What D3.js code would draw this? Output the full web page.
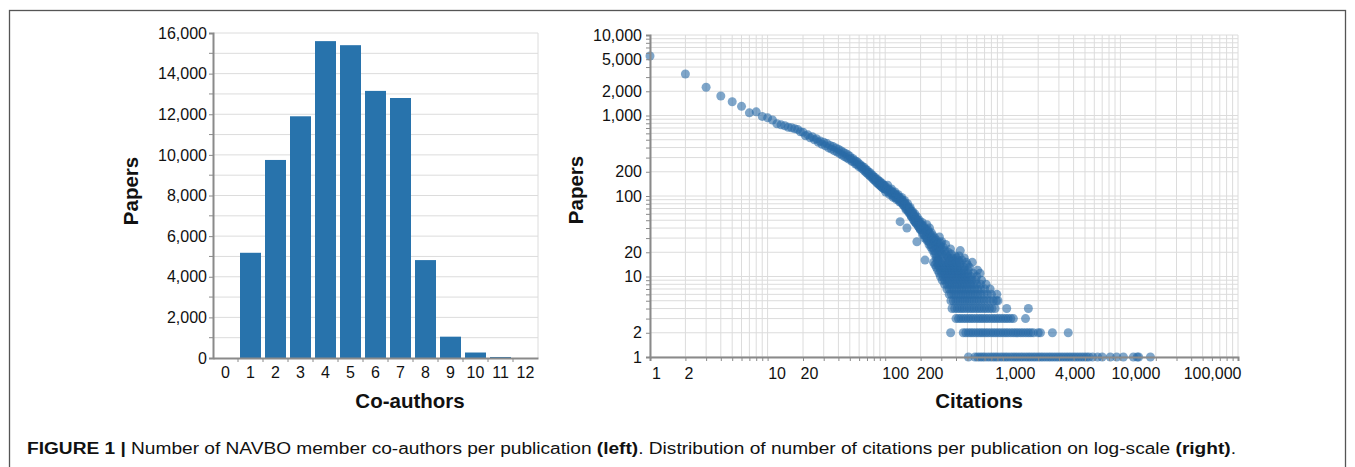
<!DOCTYPE html>
<html>
<head>
<meta charset="utf-8">
<script src="https://cdn.jsdelivr.net/npm/d3@7"></script>
<style>
  body { margin: 0; background: #fff; }
  text { font-family: Arial, "Liberation Sans", Helvetica, sans-serif; fill: #111; }
</style>
</head>
<body>
<script>
// ---- left panel data: papers by number of co-authors
let coAuthors = [0, 1, 2, 3, 4, 5, 6, 7, 8, 9, 10, 11, 12]
let coAuthorPapers = [0, 5180, 9750, 11900, 15600, 15400, 13150, 12800, 4820, 1050, 270, 50, 0]
let leftYTicks = [0, 2000, 4000, 6000, 8000, 10000, 12000, 14000, 16000]

// ---- right panel data: [citations, papers]
let citationHead = [[1,5480],[2,3280],[3,2240],[4,1745],[5,1480],[6,1300],[7,1080],[8,1110],[9,975],[10,935],
  [11,880],[12,790],[13,765],[14,745],[15,715],[16,705],[17,685],[18,672],[19,628],[20,620],[21,560],[22,575],
  [23,528],[24,545],[25,500],[26,515],[27,466],[28,482],[29,440],[30,466],[31,420],[32,448],[33,396],[34,425],
  [35,382],[36,411],[37,364],[38,396],[39,352],[40,382],[41,336],[42,365],[43,322],[44,350],[45,310],[46,338],
  [47,298],[48,326],[49,287],[50,312],[51,290],[52,270],[53,292],[54,265],[55,276],[56,250],[57,268],[58,245],
  [59,258],[60,230],[61,246],[62,236],[63,222],[64,232],[65,213],[66,228],[67,204],[68,214],[69,196],[70,210],
  [71,188],[72,198],[73,182],[74,196],[75,175],[76,184],[77,170],[78,182],[79,162],[80,172],[81,158],[82,170],
  [83,152],[84,160],[85,146],[86,160],[87,142],[88,152],[89,138],[90,152],[91,134],[92,144],[93,130],[94,144],
  [95,126],[96,137],[97,124],[98,136],[99,122]]

let citationBand = [[100,131],[101,112],[102,121],[104,126],[105,136],[106,112],[108,119],[109,104],[110,110],
  [112,116],[113,122],[114,105],[116,111],[117,96],[118,100],[120,107],[121,112],[122,97],[124,103],[125,90],
  [126,94],[128,99],[129,104],[130,90],[132,95],[133,84],[134,48],[135,86],[137,91],[138,96],[139,82],[141,87],
  [142,78],[143,77],[145,83],[146,88],[147,74],[149,79],[150,68],[151,70],[153,40],[154,75],[155,80],[156,66],
  [158,71],[159,62],[160,63],[162,69],[163,72],[164,59],[166,64],[167,55],[168,56],[170,62],[171,64],[172,54],
  [174,58],[175,50],[176,50],[178,56],[179,60],[180,47],[182,53],[183,47],[184,45],[186,27],[187,55],[188,50],
  [190,44],[191,42],[192,48],[194,41],[195,50],[196,46],[198,39],[199,38],[200,44],[203,38],[204,44],[206,47],
  [208,33],[209,35],[212,42],[213,40],[215,33],[217,30],[218,16],[220,39],[222,36],[223,31],[226,44],[227,28],
  [229,29],[231,38],[232,36],[235,27],[236,25],[238,40],[240,34],[241,31],[244,25],[245,23],[247,35],[249,31],
  [250,28],[253,23],[254,21],[256,32],[258,29],[259,26],[262,21],[263,19],[265,30],[267,27],[268,24],[271,19],
  [272,17],[274,28],[276,25],[277,22],[280,17],[281,16],[283,26],[285,23],[286,20],[289,31],[292,18],[294,21],
  [295,24],[297,26],[300,22],[303,27],[306,19],[312,23],[315,17],[321,21],[327,25],[330,19],[335,18],[343,20],
  [345,17],[351,16],[359,22],[365,19],[372,17],[380,16],[394,18],[405,17],[418,16],[425,18],[435,21],[450,16],
  [470,17],[550,15],[890,6]]

// citation counts shared by exactly n papers (n = first entry)
let tailRows = [
  [1, [510,580,610,640,670,700,740,780,820,860,900,950,1000,1050,1100,1160,1220,1280,1340,1410,1480,1560,1640,
       1720,1810,1900,2000,2100,2200,2320,2440,2560,2690,2830,2970,3120,3280,3450,3620,3800,4000,4200,4420,
       4650,4900,5150,5400,5800,6400,7000,8200,9300,10600,12900,13900,14300,18000]],
  [2, [360,461,485,510,535,560,590,620,650,680,715,750,790,830,870,915,960,1010,1060,1110,1170,1230,1290,1350,
       1420,1490,1570,1650,1730,1820,2000,2090,2640,3600]],
  [3, [400,420,440,462,485,510,535,560,590,620,650,680,715,750,790,830,870,915,960,1010,1060,1110,1170,1230,1560]],
  [4, [370,390,410,430,450,470,495,520,545,570,600,630,660,695,730,770,810,860,1080,1650]],
  [5, [362,380,398,416,435,455,475,497,520,545,570,598,628,660,695,735,780,830,880,910]],
  [6, [350,366,383,401,420,440,460,482,505,530,556,585,615,650,690,740,800]],
  [7, [335,351,368,386,405,425,446,468,492,518,546,576,610,650,700,780]],
  [8, [320,336,353,371,390,410,431,453,477,503,531,562,600,650,720]],
  [9, [305,321,338,356,375,395,416,438,462,488,516,548,590,660]],
  [10, [295,311,328,346,365,385,406,428,452,478,507,540,600]],
  [11, [288,304,321,339,358,378,399,421,446,473,505,560,640]],
  [12, [280,296,313,331,350,370,391,414,440,470,510,610]],
  [13, [272,289,306,324,343,363,385,409,436,470,520]],
  [14, [265,282,299,317,336,357,379,404,433,500]],
  [15, [258,275,292,310,330,351,374,400,430,490]]
]
let rightYTicks = [1, 2, 10, 20, 100, 200, 1000, 2000, 5000, 10000]
let rightXTicks = [1, 2, 10, 20, 100, 200, 1000, 4000, 10000, 100000]

// measurements
let m = {
  width: 1355,
  height: 467,
  left: { x0: 213, x1: 538, y0: 358, y1: 33 },
  right: { x0: 650, x1: 1238, y0: 357, y1: 35 },
  grid: '#dcdcdc',
  axis: '#8a8a8a',
  bar: '#2873ac',
  dot: '#2a6aa7',
  tickFont: 16,
  titleFont: 20.5,
  // horizontal nudges of the bottom labels of the log axis (as laid out in the figure)
  xLabelNudge: { 1: 6, 2: 3, 10: 9, 20: 6, 100: 10, 200: 9, 1000: 12, 4000: 1, 10000: 15 },
}

let svg = d3.select('body')
  .append('svg')
  .attr('width', m.width)
  .attr('height', m.height)

svg.append('rect')
  .attr('width', m.width).attr('height', m.height).attr('fill', '#fff')

// figure frame
svg.append('rect')
  .attr('x', 9.5).attr('y', 10.5)
  .attr('width', 1336).attr('height', 480)
  .attr('fill', 'none').attr('stroke', '#555').attr('stroke-width', 1.3)

// ================= left panel =================
let L = m.left
let xBand = d3.scaleBand()
  .domain(coAuthors)
  .range([L.x0, L.x1])
  .paddingInner(0.16)
  .paddingOuter(0.08)

let yLin = d3.scaleLinear()
  .domain([0, 16000])
  .range([L.y0, L.y1])

let gl = svg.append('g')

// horizontal grid every 1,000
gl.selectAll('.hgrid')
  .data(d3.range(1000, 16001, 1000))
  .enter()
  .append('line')
    .attr('x1', L.x0).attr('x2', L.x1)
    .attr('y1', function(d) { return yLin(d) })
    .attr('y2', function(d) { return yLin(d) })
    .attr('stroke', m.grid)

gl.append('line')
  .attr('x1', L.x1).attr('x2', L.x1)
  .attr('y1', L.y1).attr('y2', L.y0)
  .attr('stroke', m.grid)

gl.selectAll('.bar')
  .data(coAuthors)
  .enter()
  .append('rect')
    .attr('x', function(d) { return xBand(d) })
    .attr('width', xBand.bandwidth())
    .attr('y', function(d, i) { return yLin(coAuthorPapers[i]) })
    .attr('height', function(d, i) { return yLin(0) - yLin(coAuthorPapers[i]) })
    .attr('fill', m.bar)

// y axis
let yAxisL = d3.axisLeft(yLin)
  .tickValues(leftYTicks)
  .tickFormat(d3.format(','))
  .tickSize(4)
  .tickPadding(2)
gl.append('g')
  .attr('transform', 'translate(' + L.x0 + ',0)')
  .call(yAxisL)

// minor ticks on left y axis
gl.selectAll('.yminor')
  .data(d3.range(1000, 16000, 2000))
  .enter()
  .append('line')
    .attr('x1', L.x0 - 4).attr('x2', L.x0)
    .attr('y1', function(d) { return yLin(d) })
    .attr('y2', function(d) { return yLin(d) })
    .attr('stroke', m.axis)

// x axis
let xAxisL = d3.axisBottom(xBand)
  .tickSize(0)
  .tickPadding(9)
gl.append('g')
  .attr('transform', 'translate(0,' + L.y0 + ')')
  .call(xAxisL)

// little ticks between categories
gl.selectAll('.xminor')
  .data(coAuthors.slice(1))
  .enter()
  .append('line')
    .attr('x1', function(d) { return xBand(d) - xBand.step() * xBand.paddingInner() / 2 })
    .attr('x2', function(d) { return xBand(d) - xBand.step() * xBand.paddingInner() / 2 })
    .attr('y1', L.y0).attr('y2', L.y0 + 4)
    .attr('stroke', m.axis)

gl.append('text')
  .attr('x', 410).attr('y', 408)
  .attr('text-anchor', 'middle')
  .attr('font-size', m.titleFont).attr('font-weight', 'bold')
  .text('Co-authors')

gl.append('text')
  .attr('transform', 'translate(138,191) rotate(-90)')
  .attr('text-anchor', 'middle')
  .attr('font-size', m.titleFont).attr('font-weight', 'bold')
  .text('Papers')

// ================= right panel =================
let R = m.right
let xLog = d3.scaleLog()
  .domain([1, 100000])
  .range([R.x0, R.x1])

let yLog = d3.scaleLog()
  .domain([1, 10000])
  .range([R.y0, R.y1])

let gr = svg.append('g')

gr.selectAll('.vgrid')
  .data(xLog.ticks())
  .enter()
  .append('line')
    .attr('x1', function(d) { return xLog(d) })
    .attr('x2', function(d) { return xLog(d) })
    .attr('y1', R.y1).attr('y2', R.y0)
    .attr('stroke', m.grid)

gr.selectAll('.hgrid')
  .data(yLog.ticks())
  .enter()
  .append('line')
    .attr('x1', R.x0).attr('x2', R.x1)
    .attr('y1', function(d) { return yLog(d) })
    .attr('y2', function(d) { return yLog(d) })
    .attr('stroke', m.grid)

// flatten the point sets
let points = citationHead.concat(citationBand)
tailRows.forEach(function(row) {
  row[1].forEach(function(c) { points.push([c, row[0]]) })
})

gr.selectAll('circle')
  .data(points)
  .enter()
  .append('circle')
    .attr('cx', function(d) { return xLog(d[0]) })
    .attr('cy', function(d) { return yLog(d[1]) })
    .attr('r', 4.5)
    .attr('fill', m.dot)
    .attr('fill-opacity', 0.6)

// axes (drawn on top of the dots)
let yAxisR = d3.axisLeft(yLog)
  .tickValues(yLog.ticks())
  .tickFormat(function(d) { return rightYTicks.indexOf(d) >= 0 ? d3.format(',')(d) : '' })
  .tickSize(4)
  .tickPadding(4)
gr.append('g')
  .attr('transform', 'translate(' + R.x0 + ',0)')
  .call(yAxisR)

let xAxisR = d3.axisBottom(xLog)
  .tickValues(xLog.ticks())
  .tickFormat(function(d) { return rightXTicks.indexOf(d) >= 0 ? d3.format(',')(d) : '' })
  .tickSize(4)
  .tickPadding(7)
let xgR = gr.append('g')
  .attr('transform', 'translate(0,' + R.y0 + ')')
  .call(xAxisR)

// the last label is kept inside the plot; the others are nudged like the figure
xgR.selectAll('.tick text')
  .attr('text-anchor', function(d) { return d === 100000 ? 'end' : 'middle' })
  .attr('x', function(d) { return d === 100000 ? 3 : (m.xLabelNudge[d] || 0) })

gr.append('text')
  .attr('x', 979).attr('y', 408)
  .attr('text-anchor', 'middle')
  .attr('font-size', m.titleFont).attr('font-weight', 'bold')
  .text('Citations')

gr.append('text')
  .attr('transform', 'translate(583,190) rotate(-90)')
  .attr('text-anchor', 'middle')
  .attr('font-size', m.titleFont).attr('font-weight', 'bold')
  .text('Papers')

// common axis styling
svg.selectAll('.domain')
  .attr('stroke', m.axis)
  .attr('stroke-width', 2)
svg.selectAll('.tick line')
  .attr('stroke', m.axis)
svg.selectAll('.tick text')
  .attr('font-size', m.tickFont)
  .attr('font-family', 'Arial, "Liberation Sans", Helvetica, sans-serif')
  .attr('fill', '#111')

// ================= caption =================
let caption = svg.append('text')
  .attr('x', 27).attr('y', 454)
  .attr('font-size', 16)
  .attr('fill', '#1a1a1a')
  .attr('textLength', 1209)
  .attr('lengthAdjust', 'spacingAndGlyphs')

let captionParts = [
  ['FIGURE 1 |', 'bold'],
  [' Number of NAVBO member co-authors per publication ', 'normal'],
  ['(left)', 'bold'],
  ['. Distribution of number of citations per publication on log-scale ', 'normal'],
  ['(right)', 'bold'],
  ['.', 'normal'],
]
caption.selectAll('tspan')
  .data(captionParts)
  .enter()
  .append('tspan')
    .attr('font-weight', function(d) { return d[1] })
    .text(function(d) { return d[0] })
</script>
</body>
</html>
